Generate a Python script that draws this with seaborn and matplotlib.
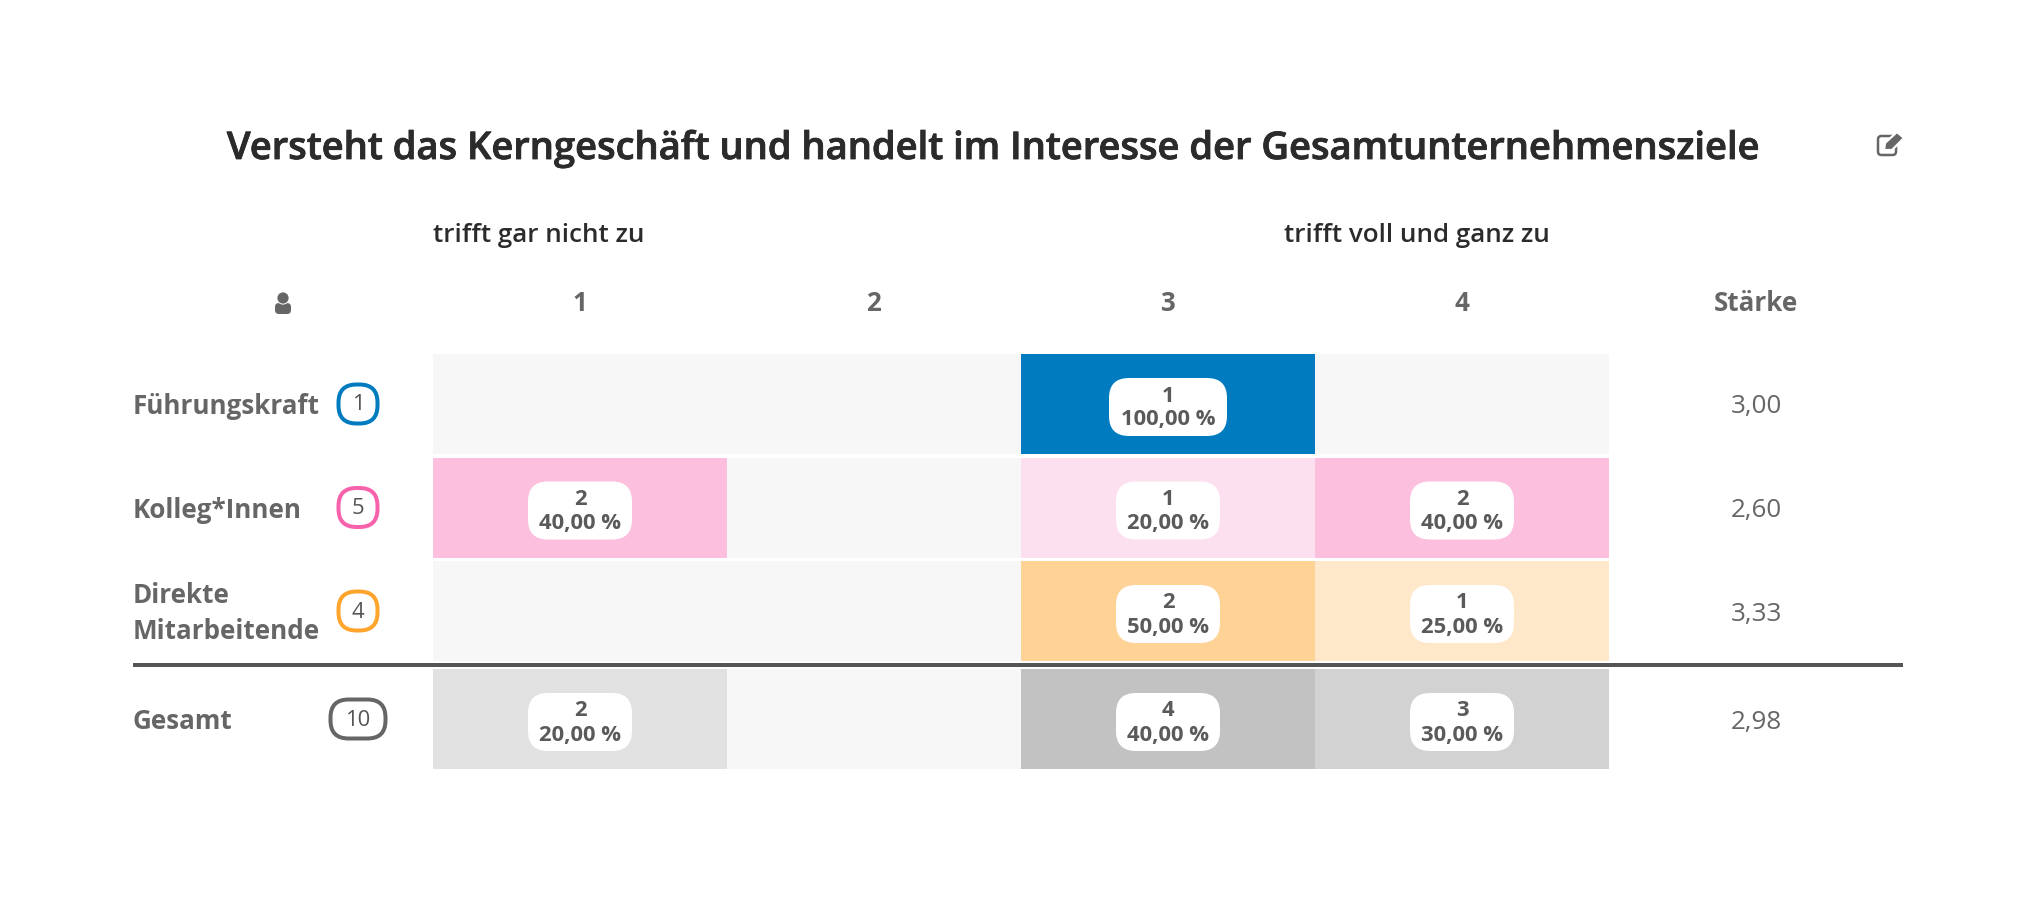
import numpy as np
import matplotlib
matplotlib.use("Agg")
import matplotlib.pyplot as plt
import matplotlib.patheffects as pe
from matplotlib.colors import LinearSegmentedColormap
from matplotlib.patches import FancyBboxPatch, Circle, Polygon
import seaborn as sns

title = "Versteht das Kerngeschäft und handelt im Interesse der Gesamtunternehmensziele"
scale_left = "trifft gar nicht zu"
scale_right = "trifft voll und ganz zu"
columns = ["1", "2", "3", "4"]
strength_header = "Stärke"
groups = ["Führungskraft", "Kolleg*Innen", "Direkte\nMitarbeitende", "Gesamt"]
respondents = [1, 5, 4, 10]
counts = [[0, 0, 1, 0], [2, 0, 1, 2], [0, 0, 2, 1], [2, 0, 4, 3]]
shares = [[0, 0, 100, 0], [40, 0, 20, 40], [0, 0, 50, 25], [20, 0, 40, 30]]
strength = ["3,00", "2,60", "3,33", "2,98"]
group_colors = ["#007BC0", "#F762AD", "#FFA52D", "#676767"]

W, H = 2034, 902
sns.set_theme(style="white")
plt.rcParams["font.family"] = ["Open Sans", "DejaVu Sans"]
fig = plt.figure(figsize=(W / 100, H / 100), dpi=100)
px = 0.72
TXT = "#666666"
DARK = "#2b2b2b"
PILL_TXT = "#5a5a5a"

col_edges = np.array([433, 727, 1021, 1315, 1609])
row_tops = [354, 457.5, 561, 669]
row_h = 100
col_w = 294


def cell_axes(top):
    return fig.add_axes([col_edges[0] / W, 1 - (top + row_h) / H,
                         (col_edges[-1] - col_edges[0]) / W, row_h / H])


for i, top in enumerate(row_tops):
    ax = cell_axes(top)
    vals = np.array([shares[i]], dtype=float)
    sns.heatmap(np.zeros_like(vals), ax=ax, cmap=["#F7F7F7"], cbar=False,
                xticklabels=False, yticklabels=False)
    cmap = LinearSegmentedColormap.from_list("g", ["#FFFFFF", group_colors[i]])
    sns.heatmap(vals, ax=ax, mask=vals == 0, cmap=cmap, vmin=0, vmax=100,
                cbar=False, xticklabels=False, yticklabels=False)
    ax.set_xlabel("")
    ax.set_ylabel("")

ov = fig.add_axes([0, 0, 1, 1], facecolor="none")
ov.set_xlim(0, W)
ov.set_ylim(H, 0)
ov.axis("off")

title_text = ov.text(994.5, 149, title, ha="center", va="center", fontsize=38.1 * px,
                     fontweight="semibold", color=DARK)
title_text.set_path_effects([pe.withStroke(linewidth=0.6, foreground=DARK)])
ov.text(433, 235.5, scale_left, ha="left", va="center", fontsize=26 * px,
        fontweight="semibold", color=DARK)
ov.text(1284, 235.5, scale_right, ha="left", va="center", fontsize=26 * px,
        fontweight="semibold", color=DARK)

for j, c in enumerate(columns):
    ov.text(col_edges[j] + col_w / 2 - 0.5, 303.5, c, ha="center", va="center",
            fontsize=26 * px, fontweight="bold", color=TXT)
ov.text(1756, 303.5, strength_header, ha="center", va="center",
        fontsize=26 * px, fontweight="bold", color=TXT)

# person icon
ov.add_patch(FancyBboxPatch((275, 303), 16, 11, boxstyle="round,pad=0,rounding_size=4",
                            fc=TXT, ec="none"))
ov.add_patch(Circle((283, 298), 6.6, fc="white", ec="none"))
ov.add_patch(Circle((283, 298), 5.6, fc=TXT, ec="none"))
# edit icon
ov.add_patch(FancyBboxPatch((1878, 136), 18, 19, boxstyle="round,pad=0,rounding_size=3.5",
                            fc="none", ec=TXT, lw=1.8))
ov.add_patch(Polygon([[1884, 150], [1885, 143], [1897, 132], [1904, 138], [1892, 150]],
                     closed=True, fc=TXT, ec="white", lw=1.6))

for i, top in enumerate(row_tops):
    yc = top + row_h / 2
    ov.text(133, yc + 2.5, groups[i], ha="left", va="center", fontsize=26 * px,
            fontweight="bold", color=TXT, linespacing=1.43)
    bw = 55 if respondents[i] >= 10 else 39
    ov.add_patch(FancyBboxPatch((358 - bw / 2, yc - 19.5), bw, 39,
                                boxstyle="round,pad=0,rounding_size=18",
                                fc="white", ec=group_colors[i] if i < 3 else "#666666", lw=4 * px))
    ov.text(358, yc + 1, str(respondents[i]), ha="center", va="center",
            fontsize=22 * px, color="#555555")
    ov.text(1756, yc + 3, strength[i], ha="center", va="center",
            fontsize=26 * px, color=TXT)
    for j in range(4):
        if counts[i][j] == 0:
            continue
        xc = col_edges[j] + col_w / 2
        pct = f"{shares[i][j]:.2f}".replace(".", ",") + " %"
        pw = 118 if shares[i][j] >= 100 else 104
        ov.add_patch(FancyBboxPatch((xc - pw / 2, yc - 26), pw, 58,
                                    boxstyle="round,pad=0,rounding_size=20",
                                    fc="white", ec="none"))
        ov.text(xc, yc - 8, str(counts[i][j]), ha="center", va="center",
                fontsize=22 * px, fontweight="bold", color=PILL_TXT)
        ov.text(xc, yc + 16, pct, ha="center", va="center",
                fontsize=22 * px, fontweight="bold", color=PILL_TXT)

ov.plot([133, 1903], [665, 665], color="#555555", lw=4 * px, solid_capstyle="butt")

fig.savefig("out.png", dpi=100, facecolor="white")
